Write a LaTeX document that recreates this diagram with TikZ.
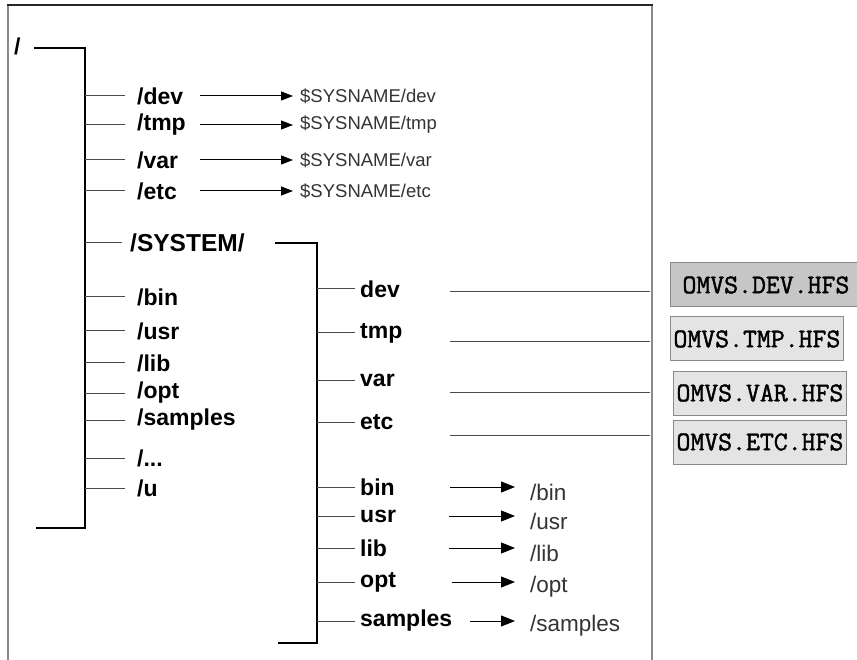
\documentclass[tikz,border=0pt]{standalone}
\usepackage{fontspec}
\setmainfont{Liberation Sans}
\newfontfamily\hfsfont[FakeBold=1.6]{Latin Modern Mono}
\usepackage{tikz}
\usetikzlibrary{positioning, arrows.meta}
\definecolor{framegray}{HTML}{8A8A8A}
\definecolor{linegray}{HTML}{4A4A4A}
\definecolor{hfsdark}{HTML}{C6C6C6}
\definecolor{hfslight}{HTML}{E4E4E4}
\definecolor{targetgray}{HTML}{333333}
\newcommand\dirdots{...}

\tikzset{
  dirlabel/.style={anchor=west, inner sep=0pt, font=\fontsize{23}{23}\selectfont\bfseries},
  target/.style={anchor=west, inner sep=0pt, text=targetgray},
  branch/.style={draw=linegray, line width=1pt},
  bracket/.style={draw=black, line width=2.4pt},
  pointer/.style={-{Triangle[length=14pt, width=11pt]}, line width=1pt},
  hfsbox/.style={draw=framegray, line width=1pt, anchor=west, minimum height=44pt,
                 inner ysep=0pt, font=\hfsfont\fontsize{27}{27}\selectfont},
}

\begin{document}
\begin{tikzpicture}[x=1pt, y=-1pt]
  \useasboundingbox (0,0) rectangle (857,660);
  \clip (0,0) rectangle (857,660);

  % frame round the tree
  \draw[framegray, line width=2pt] (8,660) -- (8,5);
  \draw[framegray, line width=2pt] (652,5) -- (652,660);
  \draw[black!85, line width=1.5pt] (7,5) -- (653,5);

  % root and its bracket
  \node[dirlabel] (root) at (14,46) {/};
  \coordinate (rtop) at (85,48);
  \coordinate (rbot) at (85,528);
  \coordinate (rend) at (36,528);
  \draw[bracket] ([xshift=13pt]root.east |- rtop) -- (rtop) -- (rbot) -- (rend);

  \foreach \txt/\y [count=\i] in {dev/96, tmp/125, var/160, etc/191, bin/297, usr/331,
                                  lib/363, opt/393, samples/420, \dirdots/458, u/488} {
    \node[dirlabel] (l\i) at (137,\y) {/\txt};
    \draw[branch] (l\i.west -| rtop) -- ([xshift=-12pt]l\i.west);
  }

  % symbolic links to $SYSNAME
  \coordinate (ustart) at (200,0);
  \foreach \txt [count=\i] in {dev, tmp, var, etc} {
    \node[target, font=\fontsize{18.5}{18.5}\selectfont] (t\i) at (300,0 |- l\i.west) {\$SYSNAME/\txt};
    \draw[-{Triangle[length=12pt, width=9pt]}, line width=1pt, shorten >=7pt]
      (ustart |- l\i.west) -- (t\i.west |- l\i.west);
  }

  % /SYSTEM/ and its bracket
  \node[dirlabel, font=\fontsize{24.5}{24.5}\selectfont\bfseries] (system) at (130,243) {/SYSTEM/};
  \draw[branch] (system.west -| rtop) -- ([xshift=-8pt]system.west);
  \coordinate (stop) at (317,243);
  \coordinate (sbot) at (317,643);
  \coordinate (send) at (278,643);
  \draw[bracket] ([xshift=30pt]system.east) -- (stop) -- (sbot) -- (send);

  \foreach \txt/\y [count=\i] in {dev/289, tmp/333, var/380, etc/422, bin/487,
                                  usr/516, lib/548, opt/582, samples/621} {
    \node[dirlabel] (s\i) at (360,\y) {\txt};
    \draw[branch] (s\i.west -| stop) -- ([xshift=-5pt]s\i.west);
  }

  % mounted file systems
  \node[hfsbox, fill=hfsdark, inner xsep=12pt] (b1) at (670,285) {OMVS.DEV.HFS};
  \node[hfsbox, fill=hfslight, inner xsep=3pt] (b2) at (670,339) {OMVS.TMP.HFS};
  \node[hfsbox, fill=hfslight, inner xsep=3pt] (b3) at (673,393) {OMVS.VAR.HFS};
  \node[hfsbox, fill=hfslight, inner xsep=3pt] (b4) at (673,442) {OMVS.ETC.HFS};
  \coordinate (rframe) at (650,0);
  \foreach \i/\y in {1/292, 2/342, 3/392, 4/435} {
    \coordinate (h\i) at (450,\y);
    \draw[branch] (h\i) -- (h\i -| rframe);
  }

  % links back to the root
  \foreach \txt/\y/\x [count=\i from 5] in {bin/492/450, usr/521/449, lib/553/449,
                                            opt/587/452, samples/626/470} {
    \node[target, font=\fontsize{22.5}{22.5}\selectfont] (t\i) at (530,\y) {/\txt};
    \coordinate (a\i) at (\x,0);
    \draw[pointer, shorten >=15pt] (a\i |- s\i.west) -- (t\i.west |- s\i.west);
  }
\end{tikzpicture}
\end{document}
